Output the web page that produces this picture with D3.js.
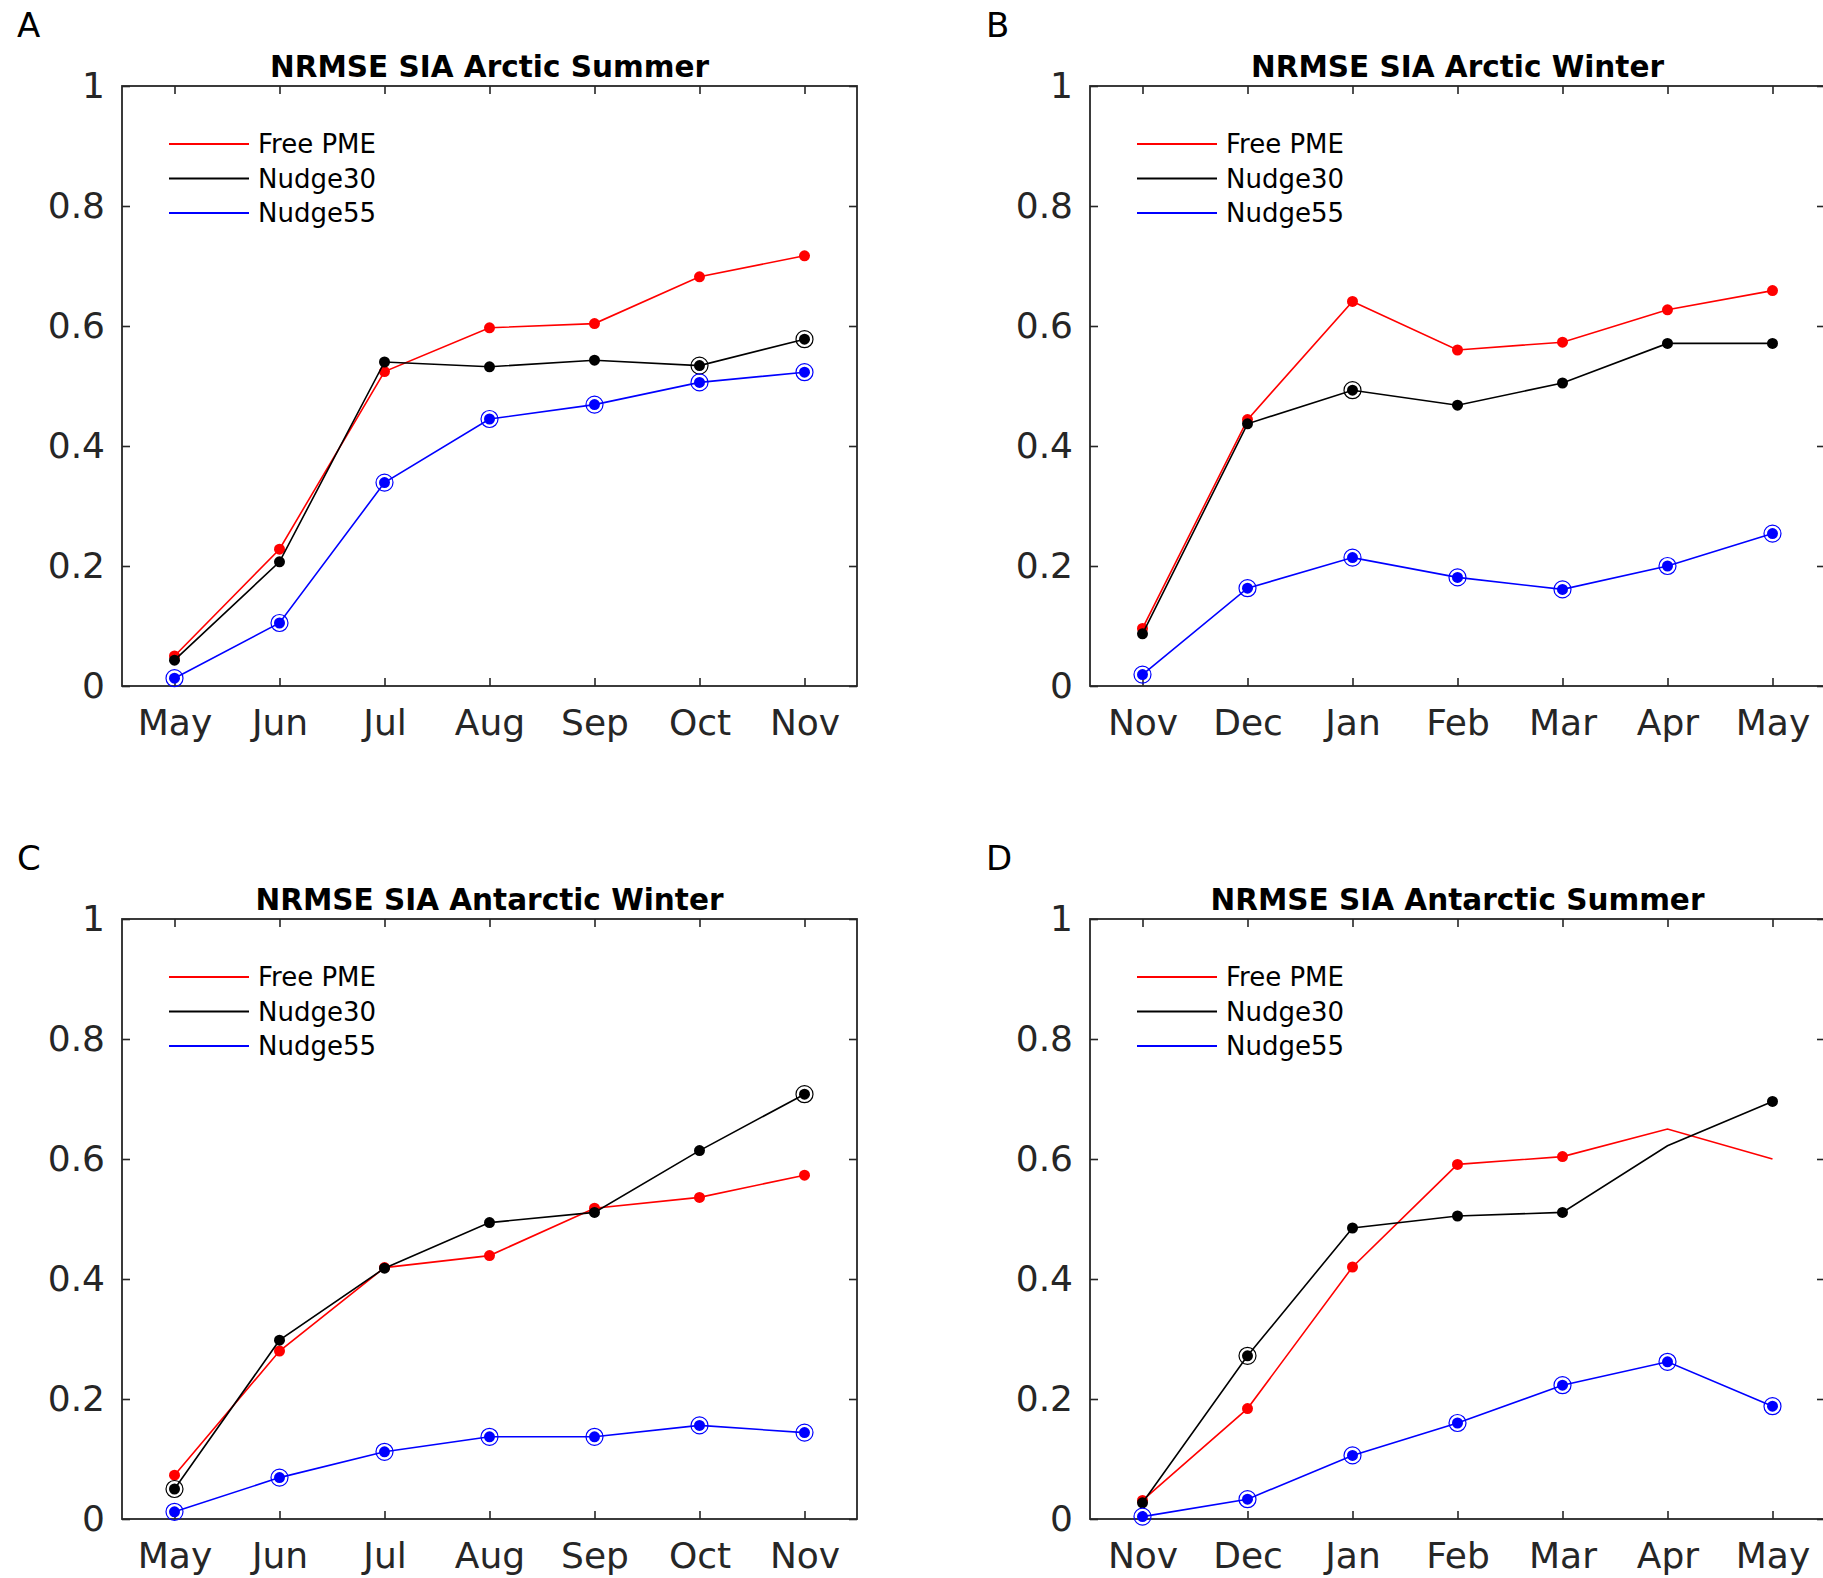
<!DOCTYPE html>
<html>
<head>
<meta charset="utf-8">
<script src="https://cdn.jsdelivr.net/npm/d3@7"></script>
<style>
  body { margin: 0; background: #fff; }
  svg { display: block; font-family: "DejaVu Sans", sans-serif; }
</style>
</head>
<body>
<div id="chart"></div>
<script>
// month labels for the two seasons
const monthsSummer = ["May", "Jun", "Jul", "Aug", "Sep", "Oct", "Nov"];
const monthsWinter = ["Nov", "Dec", "Jan", "Feb", "Mar", "Apr", "May"];
const yTicks = [0, 0.2, 0.4, 0.6, 0.8, 1];
const seriesNames = ["Free PME", "Nudge30", "Nudge55"];
const seriesColors = ["#ff0000", "#000000", "#0000ff"];

// A: Arctic summer
const arcticSummerFree = [0.050, 0.228, 0.524, 0.597, 0.604, 0.682, 0.717];
const arcticSummerN30 = [0.043, 0.207, 0.540, 0.532, 0.543, 0.534, 0.578];
const arcticSummerN55 = [0.013, 0.105, 0.339, 0.445, 0.469, 0.506, 0.523];
// B: Arctic winter
const arcticWinterFree = [0.096, 0.444, 0.641, 0.560, 0.573, 0.627, 0.659];
const arcticWinterN30 = [0.087, 0.437, 0.493, 0.468, 0.505, 0.571, 0.571];
const arcticWinterN55 = [0.019, 0.163, 0.214, 0.181, 0.161, 0.200, 0.254];
// C: Antarctic winter
const antWinterFree = [0.073, 0.280, 0.419, 0.439, 0.518, 0.536, 0.573];
const antWinterN30 = [0.050, 0.298, 0.418, 0.494, 0.511, 0.614, 0.708];
const antWinterN55 = [0.012, 0.069, 0.112, 0.137, 0.137, 0.156, 0.144];
// D: Antarctic summer
const antSummerFree = [0.031, 0.184, 0.420, 0.591, 0.604, 0.650, 0.600];
const antSummerN30 = [0.027, 0.272, 0.485, 0.505, 0.511, 0.622, 0.696];
const antSummerN55 = [0.004, 0.033, 0.106, 0.160, 0.223, 0.262, 0.188];

// filled dot flags (1 = dot drawn)
const dotsAll = [1, 1, 1, 1, 1, 1, 1];
const dotsAntSummerFree = [1, 1, 1, 1, 1, 0, 0];
const dotsAntSummerN30 = [1, 1, 1, 1, 1, 0, 1];
// open ring flags
const ringsNone = [0, 0, 0, 0, 0, 0, 0];
const ringsAll = [1, 1, 1, 1, 1, 1, 1];
const ringsArcticSummerN30 = [0, 0, 0, 0, 0, 1, 1];
const ringsArcticWinterN30 = [0, 0, 1, 0, 0, 0, 0];
const ringsAntWinterN30 = [1, 0, 0, 0, 0, 0, 1];
const ringsAntSummerN30 = [0, 1, 0, 0, 0, 0, 0];

const panels = [
    { letter: "A", title: "NRMSE SIA Arctic Summer", months: monthsSummer,
      values: [arcticSummerFree, arcticSummerN30, arcticSummerN55],
      dots: [dotsAll, dotsAll, dotsAll],
      rings: [ringsNone, ringsArcticSummerN30, ringsAll] },
    { letter: "B", title: "NRMSE SIA Arctic Winter", months: monthsWinter,
      values: [arcticWinterFree, arcticWinterN30, arcticWinterN55],
      dots: [dotsAll, dotsAll, dotsAll],
      rings: [ringsNone, ringsArcticWinterN30, ringsAll] },
    { letter: "C", title: "NRMSE SIA Antarctic Winter", months: monthsSummer,
      values: [antWinterFree, antWinterN30, antWinterN55],
      dots: [dotsAll, dotsAll, dotsAll],
      rings: [ringsNone, ringsAntWinterN30, ringsAll] },
    { letter: "D", title: "NRMSE SIA Antarctic Summer", months: monthsWinter,
      values: [antSummerFree, antSummerN30, antSummerN55],
      dots: [dotsAntSummerFree, dotsAntSummerN30, dotsAll],
      rings: [ringsNone, ringsAntSummerN30, ringsAll] }
];

const width = 1823;
const height = 1578;
const axisColor = "#262626";
const plotW = 735;
const plotH = 600;
const origins = [[122, 86], [1090, 86], [122, 919], [1090, 919]];

const svg = d3.select("#chart")
    .append("svg")
        .attr("width", width)
        .attr("height", height);

panels.forEach(function(p, pi) {
    const [ox, oy] = origins[pi];
    const g = svg.append("g").attr("transform", `translate(${ox}, ${oy})`);

    const x = d3.scalePoint()
        .domain(p.months)
        .range([0, plotW])
        .padding(0.5);
    const y = d3.scaleLinear()
        .domain([0, 1])
        .range([plotH, 0]);

    //axes with inward ticks
    const fmt = d3.format("~g");
    const bottom = g.append("g")
        .attr("transform", `translate(0, ${plotH})`)
        .call(d3.axisBottom(x).tickSizeInner(-8).tickSizeOuter(0).tickPadding(23));
    bottom.selectAll("text")
        .attr("font-size", 36)
        .attr("fill", axisColor)
        .attr("font-family", "DejaVu Sans");
    g.append("g")
        .call(d3.axisTop(x).tickSizeInner(-8).tickSizeOuter(0).tickFormat(""));
    const left = g.append("g")
        .call(d3.axisLeft(y).tickValues(yTicks).tickFormat(fmt).tickSizeInner(-8).tickSizeOuter(0).tickPadding(17));
    left.selectAll("text")
        .attr("font-size", 36)
        .attr("fill", axisColor)
        .attr("font-family", "DejaVu Sans");
    g.append("g")
        .attr("transform", `translate(${plotW}, 0)`)
        .call(d3.axisRight(y).tickValues(yTicks).tickSizeInner(-8).tickSizeOuter(0).tickFormat(""));

    g.selectAll(".domain").remove();
    g.selectAll(".tick line")
        .attr("stroke", axisColor)
        .attr("stroke-width", 1.6);

    //box
    g.append("rect")
        .attr("width", plotW)
        .attr("height", plotH)
        .attr("fill", "none")
        .attr("stroke", axisColor)
        .attr("stroke-width", 1.8);

    //title and panel letter
    g.append("text")
        .attr("x", plotW / 2)
        .attr("y", -9)
        .attr("text-anchor", "middle")
        .attr("font-size", 29.5)
        .attr("font-weight", "bold")
        .attr("fill", "#000")
        .text(p.title);
    g.append("text")
        .attr("x", pi % 2 === 0 ? 17 - ox : 986 - ox)
        .attr("y", -49)
        .attr("font-size", 34)
        .attr("fill", "#000")
        .text(p.letter);

    //series
    p.values.forEach(function(vals, si) {
        const color = seriesColors[si];
        const pts = vals.map((v, i) => ({ m: p.months[i], v: v, dot: p.dots[si][i], ring: p.rings[si][i] }));
        const line = d3.line()
            .x(d => x(d.m))
            .y(d => y(d.v));
        g.append("path")
            .datum(pts)
            .attr("d", line)
            .attr("fill", "none")
            .attr("stroke", color)
            .attr("stroke-width", 1.6);
        g.selectAll(null)
            .data(pts.filter(d => d.dot))
            .enter()
            .append("circle")
                .attr("cx", d => x(d.m))
                .attr("cy", d => y(d.v))
                .attr("r", 5.5)
                .attr("fill", color);
        g.selectAll(null)
            .data(pts.filter(d => d.ring))
            .enter()
            .append("circle")
                .attr("cx", d => x(d.m))
                .attr("cy", d => y(d.v))
                .attr("r", 8.5)
                .attr("fill", "none")
                .attr("stroke", color)
                .attr("stroke-width", 1.2);
    });

    //legend (no box)
    seriesNames.forEach(function(name, si) {
        const ly = 58 + si * 34.5;
        g.append("line")
            .attr("x1", 47)
            .attr("x2", 127)
            .attr("y1", ly)
            .attr("y2", ly)
            .attr("stroke", seriesColors[si])
            .attr("stroke-width", 1.8);
        g.append("text")
            .attr("x", 136)
            .attr("y", ly)
            .attr("dy", "0.35em")
            .attr("font-size", 26)
            .attr("fill", "#000")
            .text(name);
    });
});
</script>
</body>
</html>
